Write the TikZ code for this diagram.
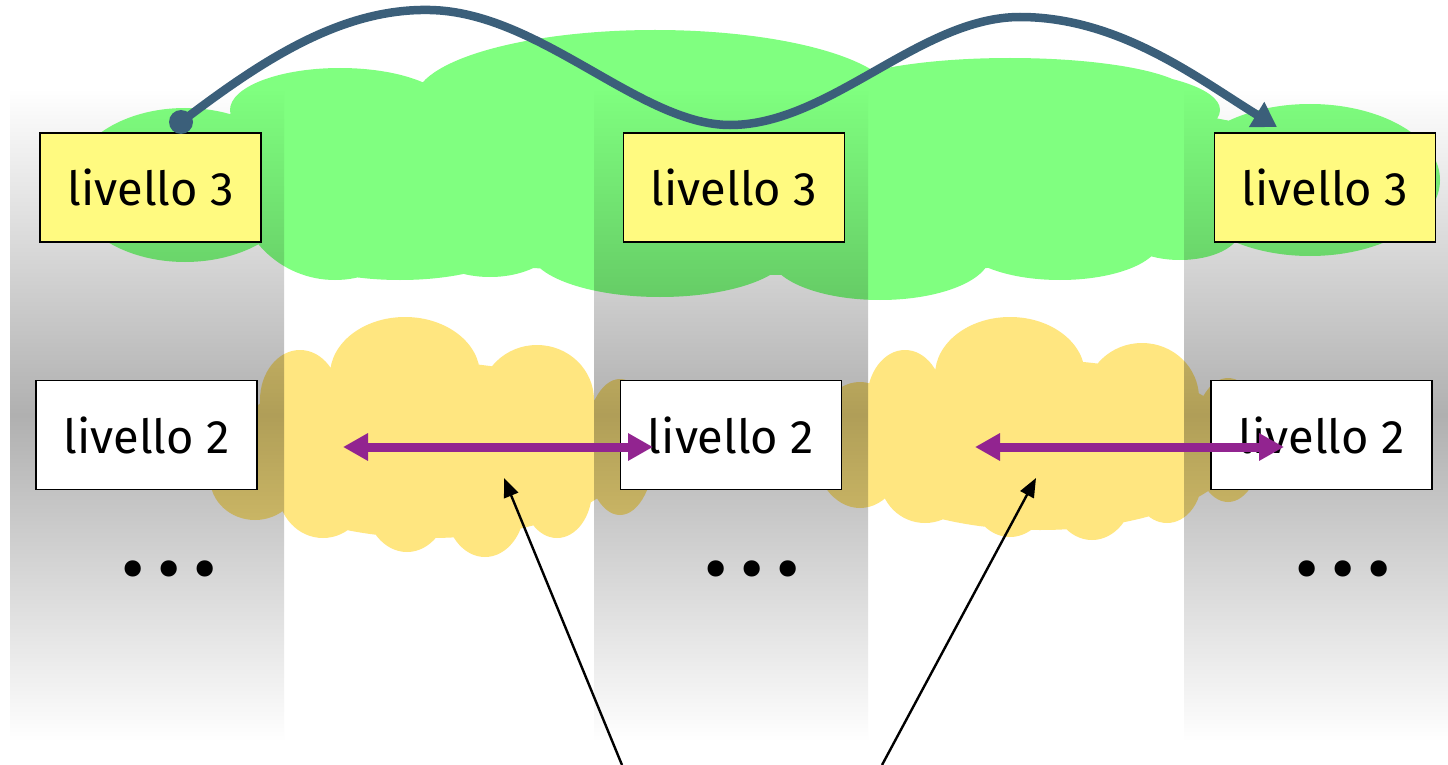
\documentclass[tikz,border=0pt]{standalone}
\usepackage{fontspec}
\setmainfont{Fira Sans}
\usetikzlibrary{arrows.meta}
\definecolor{cloudgreen}{RGB}{128,255,128}
\definecolor{cloudyellow}{RGB}{255,230,128}
\definecolor{boxyellow}{RGB}{255,250,128}
\definecolor{curveblue}{RGB}{59,95,122}
\definecolor{peerpurple}{RGB}{146,36,144}
\definecolor{colgray}{RGB}{176,176,176}
\begin{document}
\begin{tikzpicture}[x=1pt,y=-1pt,
  stackcol/.style={top color=white,bottom color=white,middle color=colgray},
  lvthree/.style={draw=black,line width=1.6pt,fill=boxyellow,minimum width=221pt,minimum height=109pt,inner sep=0pt,font=\fontsize{47}{52}\selectfont},
  lvtwo/.style={lvthree,fill=white},
  dotsnode/.style={inner sep=0pt,font=\fontsize{72}{80}\selectfont},
  greencloud/.style={fill=cloudgreen,blend mode=multiply},
  yellowcloud/.style={fill=cloudyellow,blend mode=multiply},
  peerarrow/.style={draw=peerpurple,line width=9pt,{Triangle[length=25pt,width=26pt]}-{Triangle[length=25pt,width=26pt]}},
  pointer/.style={draw=black,line width=2.4pt,-{Triangle[length=19pt,width=15pt]}},
  hoparrow/.style={draw=curveblue,line width=8.5pt,-{Triangle[length=24pt,width=28pt]}},
  startdot/.style={circle,fill=curveblue,inner sep=0pt,minimum size=24pt}
]
\useasboundingbox[fill=white] (0,0) rectangle (1448,765);

% grey stack columns
\shade[stackcol] (10,88) rectangle (284,742);
\shade[stackcol] (594,88) rectangle (868,742);
\shade[stackcol] (1184,88) rectangle (1448,742);

% green cloud (level 3 network)
\fill[greencloud]
  (185,185) ellipse (115 and 77)
  (335,180) ellipse (100 and 100)
  (340,110) ellipse (110 and 42)
  (655,100) ellipse (240 and 70)
  (660,170) ellipse (215 and 110)
  (1010,95) ellipse (180 and 37)
  (1090,110) ellipse (130 and 40)
  (1030,170) ellipse (170 and 100)
  (1310,180) ellipse (130 and 76)
  (760,180) ellipse (600 and 95)
  (400,240) ellipse (120 and 40)
  (490,235) ellipse (70 and 42)
  (660,250) ellipse (130 and 47)
  (880,255) ellipse (110 and 45)
  (1060,240) ellipse (100 and 40)
  (1180,230) ellipse (60 and 30);

% yellow clouds (level 2 networks)
\fill[yellowcloud]
  (300,400) ellipse (40 and 50)
  (405,375) ellipse (75 and 58)
  (537,400) ellipse (57 and 55)
  (620,447) ellipse (35 and 68)
  (255,478) ellipse (45 and 42)
  (323,490) ellipse (45 and 48)
  (407,500) ellipse (42 and 52)
  (485,505) ellipse (40 and 52)
  (557,490) ellipse (35 and 48)
  (430,450) ellipse (200 and 88);
\fill[yellowcloud]
  (860,445) ellipse (47 and 63)
  (905,400) ellipse (38 and 50)
  (1010,375) ellipse (75 and 58)
  (1142,398) ellipse (57 and 55)
  (1228,440) ellipse (35 and 62)
  (925,478) ellipse (45 and 45)
  (1010,485) ellipse (42 and 52)
  (1092,488) ellipse (42 and 52)
  (1167,478) ellipse (35 and 45)
  (1040,445) ellipse (200 and 85);

% boxes
\node[lvthree] (a3) at (150.5,187.5) {livello 3};
\node[lvthree] (b3) at (734,187.5) {livello 3};
\node[lvthree] (c3) at (1325,187.5) {livello 3};
\node[lvtwo] (a2) at (146.5,435) {livello 2};
\node[lvtwo] (b2) at (731,435) {livello 2};
\node[lvtwo] (c2) at (1321.5,435) {livello 2};

\node[dotsnode] (ad) at (169,577) {•\hspace{13pt}•\hspace{13pt}•};
\node[dotsnode] (bd) at (752,577) {•\hspace{13pt}•\hspace{13pt}•};
\node[dotsnode] (cd) at (1343,577) {•\hspace{13pt}•\hspace{13pt}•};

% peer arrows inside level-2 clouds
\coordinate (l1) at (343,447);
\coordinate (r1) at (653,447);
\coordinate (l2) at (975,447);
\coordinate (r2) at (1284,447);
\draw[peerarrow] (l1) -- (r1);
\draw[peerarrow] (l2) -- (r2);

% pointers from below
\coordinate (pa1) at (622,765);
\coordinate (pt1) at (504,478);
\coordinate (pa2) at (882,765);
\coordinate (pt2) at (1036,478);
\draw[pointer] (pa1) -- (pt1);
\draw[pointer] (pa2) -- (pt2);

% hop curve across level 3
\node[startdot] (sdot) at (181,122) {};
\coordinate (p1) at (430,10);
\coordinate (tr) at (730,125);
\coordinate (p2) at (1020,17);
\coordinate (hend) at (1277,127);
\draw[hoparrow] (sdot.center)
  .. controls (260,62) and (340,8) .. (p1)
  .. controls (540,12) and (640,125) .. (tr)
  .. controls (830,125) and (920,17) .. (p2)
  .. controls (1120,17) and (1200,80) .. (hend);
\end{tikzpicture}
\end{document}
